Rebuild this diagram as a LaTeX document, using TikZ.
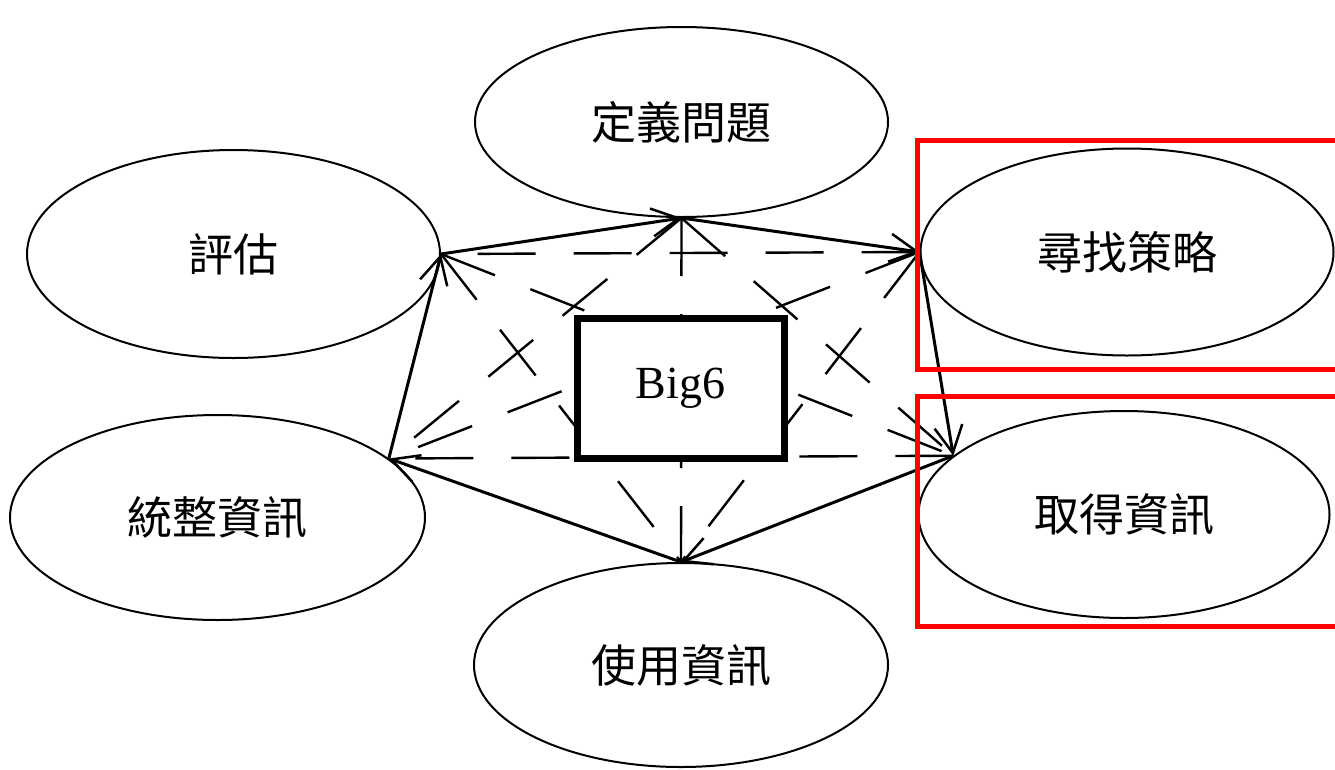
\documentclass[tikz,border=0pt]{standalone}
\usepackage{fontspec}
\setmainfont{Liberation Serif}
\newfontfamily\cjk{Noto Sans CJK TC}
\usetikzlibrary{shapes.geometric,arrows.meta}
\begin{document}
\begin{tikzpicture}[x=1pt,y=-1pt,
  ell/.style={ellipse,draw,line width=2pt,inner sep=0pt,font=\cjk\fontsize{45}{54}\selectfont},
  sarrow/.style={line width=3pt,-{Straight Barb[length=27pt,width=28pt,line width=2.5pt]}},
  dline/.style={line width=2.4pt,dash pattern=on 58pt off 38pt},
  redbox/.style={draw=red,line width=5pt},
  bigbox/.style={draw,line width=7pt,fill=white,inner sep=0pt,minimum width=207pt,minimum height=140pt,font=\fontsize{46}{54}\selectfont}]
\useasboundingbox (0,0) rectangle (1335,769);
\node[ell,minimum width=413pt,minimum height=190pt] (def) at (681.5,122) {定義問題};
\node[ell,minimum width=413pt,minimum height=208pt] (eval) at (233.5,254) {評估};
\node[ell,minimum width=413pt,minimum height=207pt] (find) at (1127,252) {尋找策略};
\node[ell,minimum width=411pt,minimum height=207pt] (get) at (1124,514.5) {取得資訊};
\node[ell,minimum width=415pt,minimum height=205pt] (int) at (217.5,517.5) {統整資訊};
\node[ell,minimum width=414pt,minimum height=204pt] (use) at (681,665) {使用資訊};
\coordinate (A) at (def.south);
\coordinate (B) at (eval.east);
\coordinate (C) at (find.west);
\coordinate (D) at (get.161);
\coordinate (E) at (use.north);
\coordinate (F) at (int.19);
% dashed connections
\draw[dline] (A) -- (D);
\draw[dline] (A) -- (E);
\draw[dline] (A) -- (F);
\draw[dline] (C) -- (B);
\draw[dline] (B) -- (D);
\draw[dline] (B) -- (E);
\draw[dline] (C) -- (E);
\draw[dline] (C) -- (F);
\draw[dline] (D) -- (F);
% solid cycle
\draw[sarrow] (B) -- (A);
\draw[sarrow] (A) -- (C);
\draw[sarrow] (C) -- (D);
\draw[sarrow] (D) -- (E);
\draw[sarrow] (E) -- (F);
\draw[sarrow] (F) -- (B);
% centre
\node[bigbox] (big) at (680.5,388) {Big6};
% red highlight boxes
\draw[redbox] (917,140) rectangle (1345,369);
\draw[redbox] (917,396) rectangle (1345,626);
\end{tikzpicture}
\end{document}
